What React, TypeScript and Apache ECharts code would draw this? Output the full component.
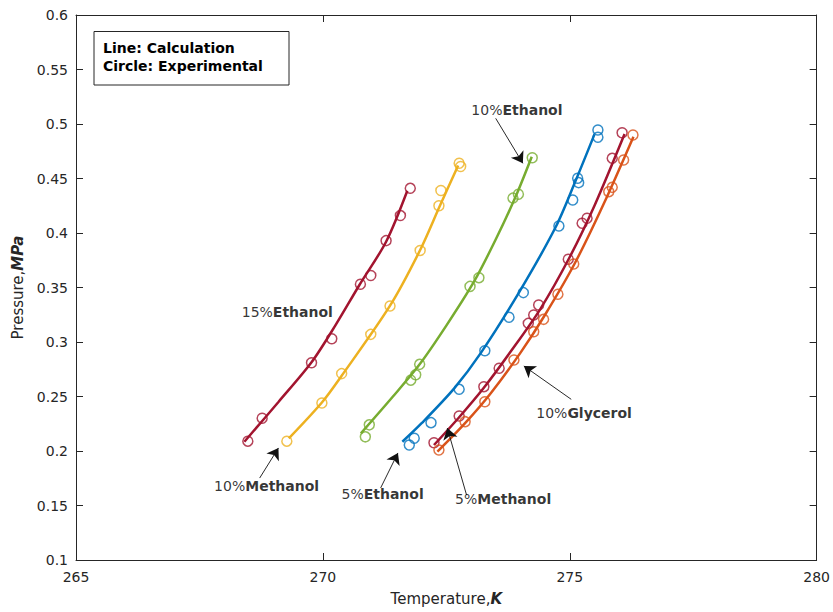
import React, { useEffect, useRef } from "react";
import * as echarts from "echarts";

// Axis ticks
const xTicks = [265, 270, 275, 280];
const yTicks = [0.1, 0.15, 0.2, 0.25, 0.3, 0.35, 0.4, 0.45, 0.5, 0.55, 0.6];

// Experimental points [T (K), P (MPa)]
const ethanol15Exp = [[268.48, 0.209], [268.77, 0.23], [269.77, 0.281], [270.18, 0.303], [270.76, 0.353], [270.97, 0.361], [271.28, 0.393], [271.57, 0.416], [271.77, 0.441]];
const methanol10Exp = [[269.27, 0.209], [269.98, 0.244], [270.38, 0.271], [270.97, 0.307], [271.36, 0.333], [271.97, 0.384], [272.35, 0.425], [272.39, 0.439], [272.76, 0.464], [272.79, 0.461]];
const ethanol10Exp = [[270.86, 0.213], [270.94, 0.224], [271.78, 0.265], [271.88, 0.27], [271.96, 0.2795], [272.98, 0.351], [273.16, 0.359], [273.85, 0.432], [273.96, 0.4355], [274.24, 0.469]];
const ethanol5Exp = [[271.75, 0.2055], [271.85, 0.2117], [272.19, 0.226], [272.76, 0.2566], [273.28, 0.292], [273.77, 0.3227], [274.06, 0.3453], [274.78, 0.4064], [275.06, 0.4303], [275.16, 0.4502], [275.18, 0.4462], [275.57, 0.4945], [275.57, 0.4878]];
const methanol5Exp = [[272.25, 0.2076], [272.76, 0.2321], [273.26, 0.259], [273.57, 0.2759], [274.16, 0.3171], [274.27, 0.3248], [274.37, 0.3339], [274.97, 0.3759], [275.25, 0.4089], [275.35, 0.4135], [275.86, 0.4685], [276.06, 0.492]];
const glycerol10Exp = [[272.35, 0.2009], [272.88, 0.2269], [273.28, 0.2452], [273.87, 0.2835], [274.27, 0.3094], [274.47, 0.3208], [274.76, 0.3438], [275.08, 0.3716], [275.79, 0.4379], [275.86, 0.4419], [276.09, 0.467], [276.28, 0.4899]];

// Calculated curves [T (K), P (MPa)]
const ethanol15Calc = [[268.41, 0.2085], [269.1, 0.245], [269.77, 0.2814], [270.25, 0.315], [270.74, 0.3523], [271.28, 0.392], [271.71, 0.4388]];
const methanol10Calc = [[269.31, 0.2116], [269.98, 0.2445], [270.38, 0.269], [271.36, 0.3333], [271.97, 0.3844], [272.37, 0.425], [272.74, 0.462]];
const ethanol10Calc = [[270.77, 0.2162], [271.41, 0.2495], [271.96, 0.2795], [272.5, 0.315], [273.06, 0.3553], [273.5, 0.394], [273.9, 0.433], [274.23, 0.47]];
const ethanol5Calc = [[271.61, 0.2085], [272.0, 0.2255], [272.66, 0.2575], [273.2, 0.29], [273.97, 0.3453], [274.71, 0.405], [275.11, 0.447], [275.5, 0.4905]];
const methanol5Calc = [[272.25, 0.2055], [272.76, 0.231], [273.26, 0.258], [273.8, 0.291], [274.4, 0.33], [275.0, 0.378], [275.5, 0.425], [276.11, 0.4908]];
const glycerol10Calc = [[272.32, 0.1994], [272.88, 0.2255], [273.4, 0.253], [274.0, 0.29], [274.5, 0.325], [275.1, 0.372], [275.7, 0.428], [276.29, 0.4884]];

const seriesNames = ["15%Ethanol", "10%Methanol", "10%Ethanol", "5%Ethanol", "5%Methanol", "10%Glycerol"];
const seriesColors = ["#A2142F", "#EDB120", "#77AC30", "#0072BD", "#A2142F", "#D95319"];
const expData = [ethanol15Exp, methanol10Exp, ethanol10Exp, ethanol5Exp, methanol5Exp, glycerol10Exp];
const calcData = [ethanol15Calc, methanol10Calc, ethanol10Calc, ethanol5Calc, methanol5Calc, glycerol10Calc];

// Annotation labels: [pct, name, T, P]
const labelPct = ["15%", "10%", "10%", "10%", "5%", "5%"];
const labelName = ["Ethanol", "Ethanol", "Glycerol", "Methanol", "Ethanol", "Methanol"];
const labelT = [269.28, 273.93, 275.29, 268.86, 271.21, 273.65];
const labelP = [0.3278, 0.5128, 0.2351, 0.1679, 0.1606, 0.156];

// Arrows: [T tail, P tail, T head, P head]
const arrows = [
  [273.5, 0.5052, 274.05, 0.4639],
  [275.03, 0.2474, 274.07, 0.278],
  [268.72, 0.1752, 269.1, 0.2028],
  [271.17, 0.1661, 271.52, 0.1982],
  [272.91, 0.1596, 272.52, 0.221],
];

const FONT = "DejaVu Sans";
const AXIS_COLOR = "#262626";

export default function App() {
  const ref = useRef<HTMLDivElement>(null);
  useEffect(() => {
    const chart = echarts.init(ref.current!, null, { renderer: "svg" });
    const baseAxis = {
      type: "value" as const,
      splitLine: { show: false },
      axisLine: { show: true, onZero: false, lineStyle: { color: AXIS_COLOR, width: 1 } },
      axisTick: { show: true, inside: true, length: 7, lineStyle: { color: AXIS_COLOR, width: 1 } },
    };
    const lineSeries = calcData.map((d, i) => ({
      type: "line",
      name: seriesNames[i] + " calc",
      data: d,
      smooth: 0.3,
      showSymbol: false,
      symbol: "none",
      lineStyle: { color: seriesColors[i], width: 2.5 },
      z: 2,
      silent: true,
    }));
    const scatterSeries = expData.map((d, i) => ({
      type: "scatter",
      name: seriesNames[i] + " exp",
      data: d,
      symbol: "circle",
      symbolSize: 10,
      itemStyle: { color: "rgba(0,0,0,0)", borderColor: seriesColors[i], borderWidth: 1.5 },
      z: 3,
      silent: true,
    }));
    const option = {
      animation: false,
      backgroundColor: "#fff",
      textStyle: { fontFamily: FONT },
      grid: { left: 76, right: 14, top: 15, bottom: 52, containLabel: false },
      xAxis: [
        {
          ...baseAxis,
          min: 265,
          max: 280,
          interval: 5,
          position: "bottom",
          axisLabel: {
            margin: 10,
            fontSize: 14,
            color: AXIS_COLOR,
            fontFamily: FONT,
            formatter: (v: number) => (xTicks.includes(v) ? String(v) : ""),
          },
          name: "{n|Temperature,}{b|K}",
          nameLocation: "middle",
          nameGap: 31,
          nameTextStyle: {
            rich: {
              n: { fontSize: 15, color: AXIS_COLOR, fontFamily: FONT },
              b: { fontSize: 15, color: AXIS_COLOR, fontFamily: FONT, fontWeight: "bold", fontStyle: "italic" },
            },
          },
        },
        {
          ...baseAxis,
          min: 265,
          max: 280,
          interval: 5,
          position: "top",
          axisLabel: { show: false },
        },
      ],
      yAxis: [
        {
          ...baseAxis,
          min: 0.1,
          max: 0.6,
          interval: 0.05,
          position: "left",
          axisLabel: {
            margin: 8,
            fontSize: 14,
            color: AXIS_COLOR,
            fontFamily: FONT,
            formatter: (v: number) => {
              const r = Math.round(v * 100) / 100;
              return yTicks.some((t) => Math.abs(t - r) < 1e-9) ? String(r) : "";
            },
          },
          name: "{n|Pressure,}{b|MPa}",
          nameLocation: "middle",
          nameGap: 48,
          nameRotate: 90,
          nameTextStyle: {
            rich: {
              n: { fontSize: 15, color: AXIS_COLOR, fontFamily: FONT },
              b: { fontSize: 15, color: AXIS_COLOR, fontFamily: FONT, fontWeight: "bold", fontStyle: "italic" },
            },
          },
        },
        {
          ...baseAxis,
          min: 0.1,
          max: 0.6,
          interval: 0.05,
          position: "right",
          axisLabel: { show: false },
        },
      ],
      graphic: [
        {
          type: "rect",
          shape: { x: 94, y: 31.5, width: 195, height: 53.5 },
          style: { fill: "#fff", stroke: AXIS_COLOR, lineWidth: 1 },
          z: 10,
        },
        {
          type: "text",
          x: 103,
          y: 48,
          style: { text: "Line: Calculation", fontSize: 14, fontWeight: "bold", fontFamily: FONT, fill: "#000", verticalAlign: "middle" },
          z: 11,
        },
        {
          type: "text",
          x: 103,
          y: 66,
          style: { text: "Circle: Experimental", fontSize: 14, fontWeight: "bold", fontFamily: FONT, fill: "#000", verticalAlign: "middle" },
          z: 11,
        },
      ],
      series: [
        ...lineSeries,
        ...scatterSeries,
        {
          type: "scatter",
          name: "labels",
          silent: true,
          symbolSize: 0,
          data: labelT.map((t, i) => ({
            value: [t, labelP[i]],
            label: { formatter: "{a|" + labelPct[i] + "}{b|" + labelName[i] + "}" },
          })),
          label: {
            show: true,
            position: "inside",
            rich: {
              a: { fontSize: 14, color: "#000", fontFamily: FONT },
              b: { fontSize: 14, color: "#000", fontFamily: FONT, fontWeight: "bold" },
            },
          },
          z: 5,
        },
        {
          type: "scatter",
          name: "arrows",
          data: [],
          silent: true,
          markLine: {
            silent: true,
            symbol: ["none", "arrow"],
            symbolSize: 11,
            label: { show: false },
            emphasis: { disabled: true },
            lineStyle: { color: "#111", width: 0.9, type: "solid" },
            data: arrows.map((a) => [{ coord: [a[0], a[1]] }, { coord: [a[2], a[3]] }]),
          },
          z: 6,
        },
      ],
    };
    chart.setOption(option as any);
    return () => chart.dispose();
  }, []);
  return (
    <div
      ref={ref}
      style={{ position: "absolute", left: 0, top: 0, width: 833, height: 612, background: "#fff" }}
    />
  );
}
